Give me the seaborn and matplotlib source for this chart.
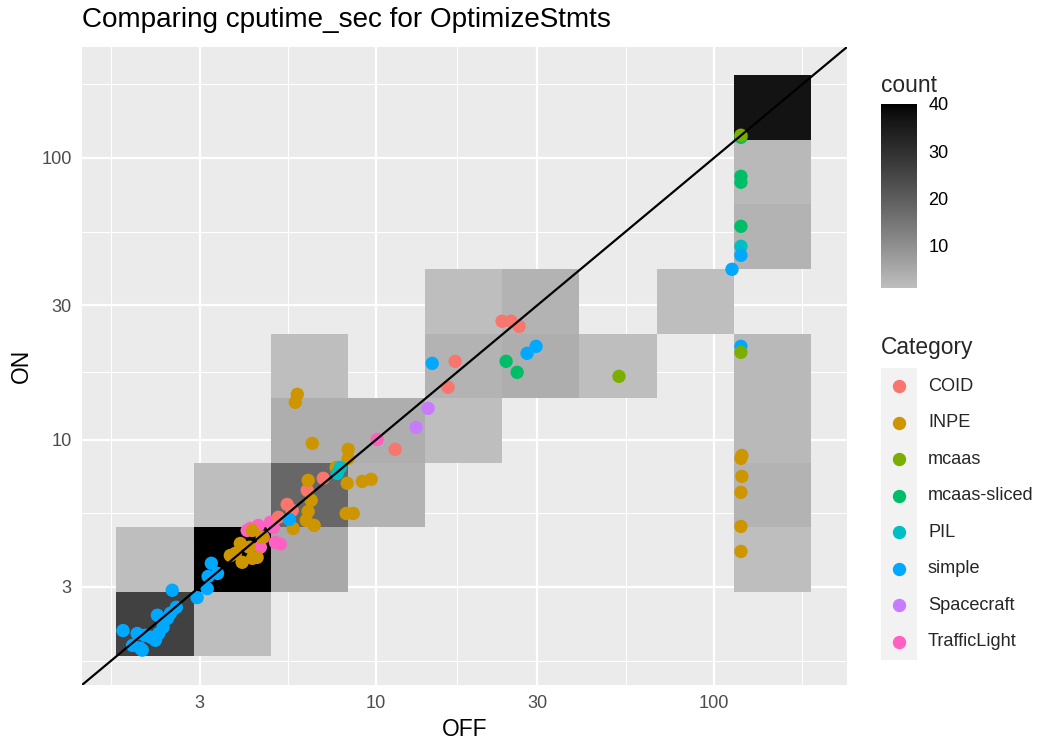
import numpy as np
import pandas as pd
import matplotlib
matplotlib.use("Agg")
import matplotlib.pyplot as plt
import seaborn as sns
from matplotlib.colors import ListedColormap, to_rgb
from matplotlib.patches import Rectangle

# ---------------- data ----------------
categories = ["COID", "INPE", "mcaas", "mcaas-sliced", "PIL", "simple",
              "Spacecraft", "TrafficLight"]
palette = ["#F8766D", "#CD9600", "#7CAE00", "#00BE67", "#00BFC4", "#00A9FF",
           "#C77CFF", "#FF61C3"]

trafficlight_off = [10.07, 4.24, 4.48, 4.86, 4.96, 5.03, 4.63, 4.54, 4.15, 5.20]
trafficlight_on = [10.02, 4.84, 4.96, 5.09, 4.88, 4.32, 4.50, 4.15, 4.76, 4.26]

coid_off = [23.59, 25.08, 26.49, 17.13, 16.33, 11.38, 6.97, 6.25, 5.45, 5.64, 5.13]
coid_on = [26.33, 26.33, 25.25, 18.97, 15.34, 9.24, 7.29, 6.61, 5.89, 5.61, 5.30]

inpe_off = [121.0, 120.2, 121.0, 120.2, 120.2, 120.2,
            5.84, 5.76, 6.47, 8.26, 8.26, 7.61, 6.29, 8.21, 9.09, 9.66,
            6.42, 6.29, 8.15, 8.55, 6.21, 6.55, 5.68, 4.30, 3.96, 3.83,
            4.01, 4.30, 4.44, 3.70, 4.60, 4.21]
inpe_on = [8.79, 8.58, 7.41, 6.50, 4.92, 4.01,
           14.49, 13.57, 9.70, 9.24, 8.58, 7.97, 7.17, 7.00, 7.11, 7.23,
           6.09, 5.56, 5.47, 5.47, 5.17, 4.96, 4.84, 4.76, 4.28, 3.95,
           3.67, 3.79, 3.82, 3.88, 4.50, 4.15]

spacecraft_off = [14.25, 13.13]
spacecraft_on = [12.92, 11.06]

mcaas_sliced_off = [120.2, 120.2, 120.2, 120.2, 24.25, 26.14]
mcaas_sliced_on = [118.4, 86.1, 82.0, 57.2, 18.97, 17.34]

pil_off = [120.2, 7.83, 7.67]
pil_on = [48.58, 7.97, 7.59]

simple_off = [1.78, 1.90, 1.96, 2.00, 2.03, 2.07, 2.15, 2.22, 2.25, 2.27,
              2.34, 2.41, 2.46, 2.49, 2.56, 2.95, 3.16, 3.18, 3.25, 3.39,
              5.53, 14.65, 27.97, 29.74, 113.1, 120.2, 120.2]
simple_on = [2.10, 1.86, 2.05, 1.82, 1.79, 2.02, 1.99, 1.94, 2.38, 2.05,
             2.16, 2.32, 2.42, 2.92, 2.54, 2.75, 2.96, 3.27, 3.64, 3.35,
             5.21, 18.66, 20.25, 21.44, 40.25, 45.12, 21.44]

mcaas_off = [120.2, 120.2, 52.35]
mcaas_on = [120.4, 20.42, 16.78]

# 2D bin cells (bin centres, OFF / ON) and their counts
bin_off = [2.21, 2.21, 3.75, 3.75, 3.75, 6.35, 6.35, 6.35, 6.35, 10.7, 10.7,
           18.2, 18.2, 18.2, 30.8, 30.8, 52.1, 88.2,
           149, 149, 149, 149, 149, 149, 149]
bin_on = [2.21, 3.75, 2.21, 3.75, 6.36, 3.75, 6.36, 10.8, 18.3, 6.36, 10.8,
          10.8, 18.3, 31.0, 18.3, 31.0, 18.3, 31.0,
          3.75, 6.36, 10.8, 18.3, 52.5, 89.0, 151]
bin_count = [26, 1, 1, 40, 1, 5, 18, 4, 1, 3, 4,
             1, 3, 1, 4, 3, 1, 1,
             1, 3, 2, 2, 3, 2, 37]

x_ticks = [3, 10, 30, 100]
y_ticks = [3, 10, 30, 100]
cbar_ticks = [10, 20, 30, 40]

# ---------------- build frames ----------------
series = [("TrafficLight", trafficlight_off, trafficlight_on),
          ("COID", coid_off, coid_on),
          ("INPE", inpe_off, inpe_on),
          ("Spacecraft", spacecraft_off, spacecraft_on),
          ("mcaas-sliced", mcaas_sliced_off, mcaas_sliced_on),
          ("PIL", pil_off, pil_on),
          ("simple", simple_off, simple_on),
          ("mcaas", mcaas_off, mcaas_on)]
df = pd.concat([pd.DataFrame({"OFF": o, "ON": n, "Category": c})
                for c, o, n in series], ignore_index=True)
bins_df = pd.DataFrame({"OFF": bin_off, "ON": bin_on, "count": bin_count})

# ---------------- style ----------------
sns.set_style("white")
plt.rcParams["font.family"] = ["Liberation Sans", "DejaVu Sans"]

DPI = 148.5
W, H = 1042, 740
fig = plt.figure(figsize=(W / DPI, H / DPI), dpi=DPI)

def fx(px):
    return px / W

def fy(py):
    return 1 - py / H

L, R, T, B = 82, 847, 47, 685
ax = fig.add_axes([fx(L), fy(B), fx(R) - fx(L), fy(T) - fy(B)])
ax.set_facecolor("#EBEBEB")

# Lab-interpolated grey -> black ramp
def lab_L_to_gray(Lv):
    Lv = np.asarray(Lv, float)
    Y = np.where(Lv > 8, ((Lv + 16) / 116) ** 3, Lv / 903.3)
    s = np.where(Y > 0.0031308, 1.055 * np.clip(Y, 0, None) ** (1 / 2.4) - 0.055, 12.92 * Y)
    return np.clip(s, 0, 1)

g = to_rgb("#BEBEBE")[0]
lin = ((g + 0.055) / 1.055) ** 2.4
L_low = 116 * lin ** (1 / 3) - 16
Ls = np.linspace(L_low, 0, 256)
grays = lab_L_to_gray(Ls)
cmap = ListedColormap(np.column_stack([grays, grays, grays]))

x_edges = 0.2308 + 0.2285 * np.arange(10)
y_edges = 0.2305 + 0.2292 * np.arange(10)

sns.histplot(data=bins_df, x="OFF", y="ON", weights="count",
             bins=(list(x_edges), list(y_edges)), log_scale=(True, True),
             cmap=cmap, vmin=1, vmax=40, ax=ax, zorder=1)
mesh = ax.collections[0]

PT_S = 42
sns.scatterplot(data=df, x="OFF", y="ON", hue="Category",
                hue_order=categories, palette=palette, s=PT_S,
                linewidth=0, alpha=1, ax=ax, legend=False, zorder=2)

ax.axline((1, 1), (10, 10), color="black", lw=1.07, zorder=3)

ax.set_xscale("log")
ax.set_yscale("log")
lo, hi = 10 ** 0.129, 10 ** 2.394
ax.set_xlim(lo, hi)
ax.set_ylim(lo, hi)

ax.set_xticks(x_ticks)
ax.set_xticklabels([str(v) for v in x_ticks])
ax.set_yticks(y_ticks)
ax.set_yticklabels([str(v) for v in y_ticks])
minors = [10 ** v for v in [0.2155, 0.7386, 1.2386, 1.7386, 2.2615]]
ax.set_xticks(minors, minor=True)
ax.set_yticks(minors, minor=True)
ax.tick_params(which="minor", length=0, labelbottom=False, labelleft=False)
ax.tick_params(which="major", length=2.75, width=1.07, color="#333333",
               labelcolor="#4D4D4D", labelsize=8.8, pad=2.2)
ax.set_axisbelow(True)
ax.grid(which="major", color="white", lw=1.07)
ax.grid(which="minor", color="white", lw=0.53)
for sp in ax.spines.values():
    sp.set_visible(False)

ax.set_xlabel("OFF", fontsize=11, color="black", labelpad=3)
ax.set_ylabel("ON", fontsize=11, color="black", labelpad=4)

fig.text(fx(82), fy(20), "Comparing cputime_sec for OptimizeStmts",
         fontsize=13.5, ha="left", va="center", color="black")

# ---------------- colourbar legend ----------------
cax = fig.add_axes([fx(881), fy(288), fx(917) - fx(881), fy(104) - fy(288)])
cb = fig.colorbar(mesh, cax=cax)
cb.outline.set_visible(False)
cb.set_ticks(cbar_ticks)
cax.tick_params(axis="y", which="both", direction="in", length=3.5,
                width=0.8, color="white", left=True, right=True,
                labelleft=False, labelright=True, labelsize=8.8, pad=5.5,
                labelcolor="black")
cax.minorticks_off()
fig.text(fx(881), fy(85), "count", fontsize=11, ha="left", va="center")

# ---------------- category legend ----------------
lax = fig.add_axes([0, 0, 1, 1])
lax.set_xlim(0, W)
lax.set_ylim(H, 0)
lax.axis("off")
lax.patch.set_alpha(0)
fig.text(fx(881), fy(347), "Category", fontsize=11, ha="left", va="center")
key_top, key_h = 368, 36.5
lax.add_patch(Rectangle((881, key_top), 36, key_h * len(categories),
                        facecolor="#F2F2F2", edgecolor="none"))
for i, (c, col) in enumerate(zip(categories, palette)):
    yc = key_top + key_h * (i + 0.5)
    lax.scatter([899], [yc], s=PT_S, color=col, linewidths=0)
    lax.text(928, yc, c, fontsize=8.8, ha="left", va="center")

fig.savefig("out.png", dpi=DPI)
